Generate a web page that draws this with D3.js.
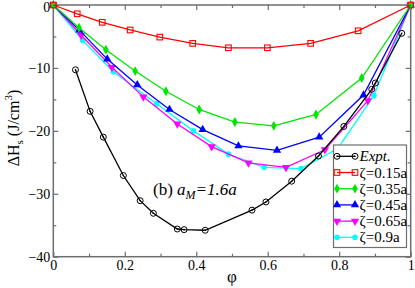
<!DOCTYPE html>
<html>
<head>
<meta charset="utf-8">
<script src="https://cdn.jsdelivr.net/npm/d3@7"></script>
<style>
  body { margin: 0; background: #fff; }
  svg { display: block; }
</style>
</head>
<body>
<svg id="chart" width="415" height="288"></svg>
<script>
// data
const xExpt = [0.062, 0.103, 0.14, 0.196, 0.243, 0.28, 0.347, 0.366, 0.425, 0.556, 0.595, 0.667, 0.742, 0.813, 0.891, 0.901, 0.975];
const yExpt = [-10.3, -16.9, -21.0, -27.1, -31.1, -33.1, -35.6, -35.7, -35.8, -32.6, -31.3, -28.0, -24.0, -19.3, -13.4, -12.4, -4.5];

const x015 = [0, 0.067, 0.137, 0.215, 0.298, 0.39, 0.49, 0.599, 0.72, 0.853, 1];
const y015 = [0, -1.4, -2.75, -3.97, -5.1, -6.1, -6.8, -6.8, -6.1, -4.1, 0];

const x035 = [0, 0.072, 0.147, 0.229, 0.315, 0.408, 0.508, 0.617, 0.735, 0.863, 1];
const y035 = [0, -3.6, -7.1, -10.5, -13.7, -16.6, -18.6, -19.2, -17.4, -11.6, 0];

const x045 = [0, 0.073, 0.151, 0.235, 0.325, 0.418, 0.518, 0.626, 0.744, 0.868, 1];
const y045 = [0, -4.0, -8.6, -12.7, -16.6, -19.8, -22.4, -23.1, -21.0, -14.3, 0];

const x065 = [0, 0.078, 0.164, 0.252, 0.347, 0.443, 0.546, 0.651, 0.76, 0.88, 1];
const y065 = [0, -4.8, -9.9, -14.6, -18.9, -22.5, -25.1, -25.8, -23.0, -15.2, 0];

const x090 = [0, 0.082, 0.168, 0.289, 0.392, 0.49, 0.59, 0.693, 0.796, 0.897, 1];
const y090 = [0, -5.6, -10.6, -15.7, -20.0, -23.7, -25.8, -26.0, -22.8, -14.4, 0];

const seriesNames = ["Expt.", "ζ=0.15a", "ζ=0.35a", "ζ=0.45a", "ζ=0.65a", "ζ=0.9a"];
const xTicks = [0, 0.2, 0.4, 0.6, 0.8, 1];
const yTicks = [0, -10, -20, -30, -40];

const series = [
    {name: seriesNames[0], xs: xExpt, ys: yExpt, color: "#000000", sym: "circ"},
    {name: seriesNames[1], xs: x015, ys: y015, color: "#ff0000", sym: "square"},
    {name: seriesNames[2], xs: x035, ys: y035, color: "#00e600", sym: "diamond"},
    {name: seriesNames[3], xs: x045, ys: y045, color: "#0000ff", sym: "triup"},
    {name: seriesNames[4], xs: x065, ys: y065, color: "#ff00ff", sym: "tridown"},
    {name: seriesNames[5], xs: x090, ys: y090, color: "#00ffff", sym: "dot"}
];

const FONT = "'Liberation Serif', 'DejaVu Serif', serif";

const svg = d3.select("#chart");
const mLeft = 53.3, mRight = 410.7, mTop = 5, mBottom = 256.7;

const x = d3.scaleLinear().domain([0, 1]).range([mLeft, mRight]);
const y = d3.scaleLinear().domain([-40, 0]).range([mBottom, mTop]);

const axisColor = "#6e6e6e";

// frame
svg.append("rect")
    .attr("x", mLeft).attr("y", mTop)
    .attr("width", mRight - mLeft).attr("height", mBottom - mTop)
    .attr("fill", "none").attr("stroke", axisColor).attr("stroke-width", 1.5);

// ticks, all pointing inward
let drawAxis = function(axisGen, tx, ty) {
    let g = svg.append("g").attr("transform", "translate(" + tx + "," + ty + ")");
    g.call(axisGen);
    g.attr("font-family", null);
    g.select(".domain").remove();
    g.selectAll("line").attr("stroke", axisColor).attr("stroke-width", 1.2);
    g.selectAll("text").style("font-family", FONT);
    return g;
};

let minorX = [0.1, 0.3, 0.5, 0.7, 0.9];
let minorY = [-5, -15, -25, -35];

let xb = drawAxis(d3.axisBottom(x).tickValues(xTicks).tickSize(-5).tickFormat(d => d === 0 ? "0" : (d === 1 ? "1" : d3.format(".1f")(d))), 0, mBottom);
xb.selectAll("text").attr("y", 3.5).attr("font-size", 14).attr("fill", "#000");
drawAxis(d3.axisBottom(x).tickValues(minorX).tickSize(-3).tickFormat(""), 0, mBottom);
drawAxis(d3.axisTop(x).tickValues(xTicks).tickSize(-5).tickFormat(""), 0, mTop);
drawAxis(d3.axisTop(x).tickValues(minorX).tickSize(-3).tickFormat(""), 0, mTop);

let yl = drawAxis(d3.axisLeft(y).tickValues(yTicks).tickSize(-5).tickFormat(d3.format("d")), mLeft, 0);
yl.selectAll("text").attr("x", -3).attr("font-size", 14).attr("fill", "#000");
yl.selectAll(".tick text").filter(d => d === 0).attr("dy", "0.45em");
drawAxis(d3.axisLeft(y).tickValues(minorY).tickSize(-3).tickFormat(""), mLeft, 0);
drawAxis(d3.axisRight(y).tickValues(yTicks).tickSize(-5).tickFormat(""), mRight, 0);
drawAxis(d3.axisRight(y).tickValues(minorY).tickSize(-3).tickFormat(""), mRight, 0);

// markers
let drawMarker = function(g, sym, cx, cy, color) {
    if (sym === "square") {
        g.append("rect").attr("x", cx - 2.8).attr("y", cy - 2.8).attr("width", 5.6).attr("height", 5.6)
            .attr("fill", "none").attr("stroke", color).attr("stroke-width", 1.1);
    } else if (sym === "circ") {
        g.append("circle").attr("cx", cx).attr("cy", cy).attr("r", 3)
            .attr("fill", "none").attr("stroke", color).attr("stroke-width", 1);
        g.append("circle").attr("cx", cx).attr("cy", cy).attr("r", 0.8).attr("fill", color);
    } else if (sym === "dot") {
        g.append("circle").attr("cx", cx).attr("cy", cy).attr("r", 2.8).attr("fill", color);
    } else {
        let type = sym === "diamond" ? d3.symbolDiamond : d3.symbolTriangle;
        let size = sym === "diamond" ? 28 : 30;
        let rot = sym === "tridown" ? 180 : 0;
        g.append("path").attr("d", d3.symbol().type(type).size(size)())
            .attr("transform", "translate(" + cx + "," + cy + ") rotate(" + rot + ")")
            .attr("fill", color);
    }
};

let line = d3.line().x(d => x(d[0])).y(d => y(d[1]));

// draw from last to first so Expt sits on top
series.slice().reverse().forEach(function(s) {
    let pts = s.xs.map((v, i) => [v, s.ys[i]]);
    let g = svg.append("g");
    g.append("path").datum(pts).attr("d", line)
        .attr("fill", "none").attr("stroke", s.color).attr("stroke-width", 1.3);
    pts.forEach(p => drawMarker(g, s.sym, x(p[0]), y(p[1]), s.color));
});

// legend
let lg = svg.append("g");
lg.append("rect").attr("x", 333.5).attr("y", 145).attr("width", 73).attr("height", 102.5)
    .attr("fill", "#fff").attr("stroke", axisColor).attr("stroke-width", 1.2);
series.forEach(function(s, i) {
    let ly = 156.3 + i * 16.2;
    lg.append("line").attr("x1", 337).attr("x2", 355).attr("y1", ly).attr("y2", ly)
        .attr("stroke", s.color).attr("stroke-width", 1.3);
    drawMarker(lg, s.sym, 337, ly, s.color);
    drawMarker(lg, s.sym, 355, ly, s.color);
    lg.append("text").attr("x", 359.5).attr("y", ly + 5).attr("font-size", 15)
        .style("font-family", FONT)
        .attr("font-style", i === 0 ? "italic" : "normal")
        .text(s.name);
});

// annotation
let ann = svg.append("text").attr("x", 153).attr("y", 195).attr("font-size", 17)
    .style("font-family", FONT);
ann.append("tspan").text("(b) ");
ann.append("tspan").attr("font-style", "italic").text("a");
ann.append("tspan").attr("font-style", "italic").attr("font-size", 12).attr("dy", 4).text("M");
ann.append("tspan").attr("font-style", "italic").attr("dy", -4).text("=1.6a");

// axis titles
svg.append("text").attr("x", (mLeft + mRight) / 2).attr("y", 282).attr("text-anchor", "middle")
    .attr("font-size", 17).style("font-family", FONT).text("φ");

let yt = svg.append("text").attr("transform", "translate(19,128) rotate(-90)")
    .attr("text-anchor", "middle").attr("font-size", 16).style("font-family", FONT);
yt.append("tspan").text("ΔH");
yt.append("tspan").attr("font-size", 11).attr("dy", 4).text("s");
yt.append("tspan").attr("dy", -4).text(" (J/cm");
yt.append("tspan").attr("font-size", 11).attr("dy", -7).text("3");
yt.append("tspan").attr("dy", 7).text(")");
</script>
</body>
</html>
